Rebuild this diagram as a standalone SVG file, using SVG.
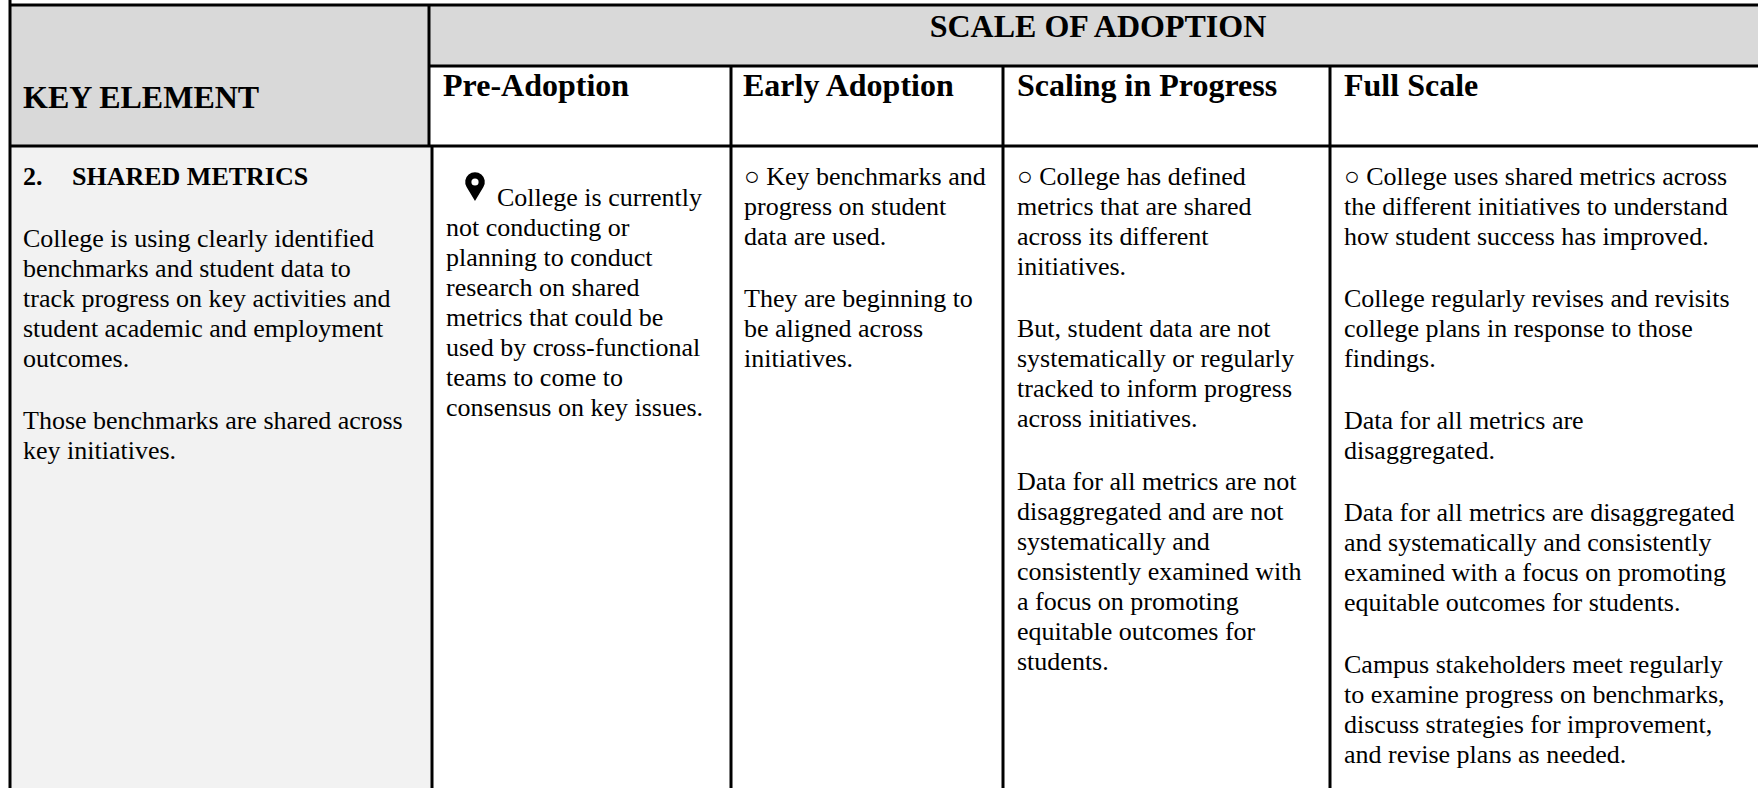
<svg xmlns="http://www.w3.org/2000/svg" width="1758" height="788" viewBox="0 0 1758 788">
<style>
.h{font-family:"Liberation Serif","Times New Roman",serif;font-weight:bold;font-size:32px;fill:#000}
.b{font-family:"Liberation Serif","Times New Roman",serif;font-size:26px;fill:#000}
.bb{font-family:"Liberation Serif","Times New Roman",serif;font-size:26px;font-weight:bold;fill:#000}
.g{stroke:#000;stroke-width:3;fill:none}
</style>
<rect x="0" y="0" width="1758" height="788" fill="#fff"/>
<g id="key-element-header">
<rect x="10" y="5" width="419" height="141" fill="#d9d9d9"/>
<text class="h" x="23" y="108">KEY ELEMENT</text>
</g>
<g id="scale-of-adoption-header">
<rect x="429" y="5" width="1340" height="61" fill="#d9d9d9"/>
<text class="h" x="1098" y="37" text-anchor="middle">SCALE OF ADOPTION</text>
</g>
<g id="pre-adoption-header"><text class="h" x="443" y="96">Pre-Adoption</text></g>
<g id="early-adoption-header"><text class="h" x="743" y="96">Early Adoption</text></g>
<g id="scaling-header"><text class="h" x="1017" y="96">Scaling in Progress</text></g>
<g id="full-scale-header"><text class="h" x="1344" y="96">Full Scale</text></g>
<g id="shared-metrics">
<rect x="10" y="146" width="422" height="642" fill="#f2f2f2"/>
<text class="bb" x="23" y="185">2.</text>
<text class="bb" x="72" y="185">SHARED METRICS</text>
<text class="b">
<tspan x="23" y="247">College is using clearly identified</tspan>
<tspan x="23" y="277">benchmarks and student data to</tspan>
<tspan x="23" y="307">track progress on key activities and</tspan>
<tspan x="23" y="337">student academic and employment</tspan>
<tspan x="23" y="367">outcomes.</tspan>
<tspan x="23" y="429">Those benchmarks are shared across</tspan>
<tspan x="23" y="459">key initiatives.</tspan>
</text>
</g>
<g id="pre-adoption">
<path d="M475 201 L466.6 187 A9.8 9.8 0 1 1 483.4 187 Z" fill="#000"/>
<circle cx="475" cy="182" r="3.6" fill="#fff"/>
<text class="b">
<tspan x="497" y="206">College is currently</tspan>
<tspan x="446" y="236">not conducting or</tspan>
<tspan x="446" y="266">planning to conduct</tspan>
<tspan x="446" y="296">research on shared</tspan>
<tspan x="446" y="326">metrics that could be</tspan>
<tspan x="446" y="356">used by cross-functional</tspan>
<tspan x="446" y="386">teams to come to</tspan>
<tspan x="446" y="416">consensus on key issues.</tspan>
</text>
</g>
<g id="early-adoption">
<text class="b">
<tspan x="744" y="185">○ Key benchmarks and</tspan>
<tspan x="744" y="215">progress on student</tspan>
<tspan x="744" y="245">data are used.</tspan>
<tspan x="744" y="307">They are beginning to</tspan>
<tspan x="744" y="337">be aligned across</tspan>
<tspan x="744" y="367">initiatives.</tspan>
</text>
</g>
<g id="scaling-in-progress">
<text class="b">
<tspan x="1017" y="185">○ College has defined</tspan>
<tspan x="1017" y="215">metrics that are shared</tspan>
<tspan x="1017" y="245">across its different</tspan>
<tspan x="1017" y="275">initiatives.</tspan>
<tspan x="1017" y="337">But, student data are not</tspan>
<tspan x="1017" y="367">systematically or regularly</tspan>
<tspan x="1017" y="397">tracked to inform progress</tspan>
<tspan x="1017" y="427">across initiatives.</tspan>
<tspan x="1017" y="490">Data for all metrics are not</tspan>
<tspan x="1017" y="520">disaggregated and are not</tspan>
<tspan x="1017" y="550">systematically and</tspan>
<tspan x="1017" y="580">consistently examined with</tspan>
<tspan x="1017" y="610">a focus on promoting</tspan>
<tspan x="1017" y="640">equitable outcomes for</tspan>
<tspan x="1017" y="670">students.</tspan>
</text>
</g>
<g id="full-scale">
<text class="b">
<tspan x="1344" y="185">○ College uses shared metrics across</tspan>
<tspan x="1344" y="215">the different initiatives to understand</tspan>
<tspan x="1344" y="245">how student success has improved.</tspan>
<tspan x="1344" y="307">College regularly revises and revisits</tspan>
<tspan x="1344" y="337">college plans in response to those</tspan>
<tspan x="1344" y="367">findings.</tspan>
<tspan x="1344" y="429">Data for all metrics are</tspan>
<tspan x="1344" y="459">disaggregated.</tspan>
<tspan x="1344" y="521">Data for all metrics are disaggregated</tspan>
<tspan x="1344" y="551">and systematically and consistently</tspan>
<tspan x="1344" y="581">examined with a focus on promoting</tspan>
<tspan x="1344" y="611">equitable outcomes for students.</tspan>
<tspan x="1344" y="673">Campus stakeholders meet regularly</tspan>
<tspan x="1344" y="703">to examine progress on benchmarks,</tspan>
<tspan x="1344" y="733">discuss strategies for improvement,</tspan>
<tspan x="1344" y="763">and revise plans as needed.</tspan>
</text>
</g>
<g id="connectors" class="g">
<line x1="10" y1="0" x2="10" y2="788"/>
<line x1="10" y1="5" x2="1758" y2="5"/>
<line x1="429" y1="66" x2="1758" y2="66"/>
<line x1="10" y1="146" x2="1758" y2="146"/>
<line x1="429" y1="5" x2="429" y2="146"/>
<line x1="432" y1="146" x2="432" y2="788"/>
<line x1="731" y1="66" x2="731" y2="788"/>
<line x1="1003" y1="66" x2="1003" y2="788"/>
<line x1="1330" y1="66" x2="1330" y2="788"/>
</g>
</svg>
